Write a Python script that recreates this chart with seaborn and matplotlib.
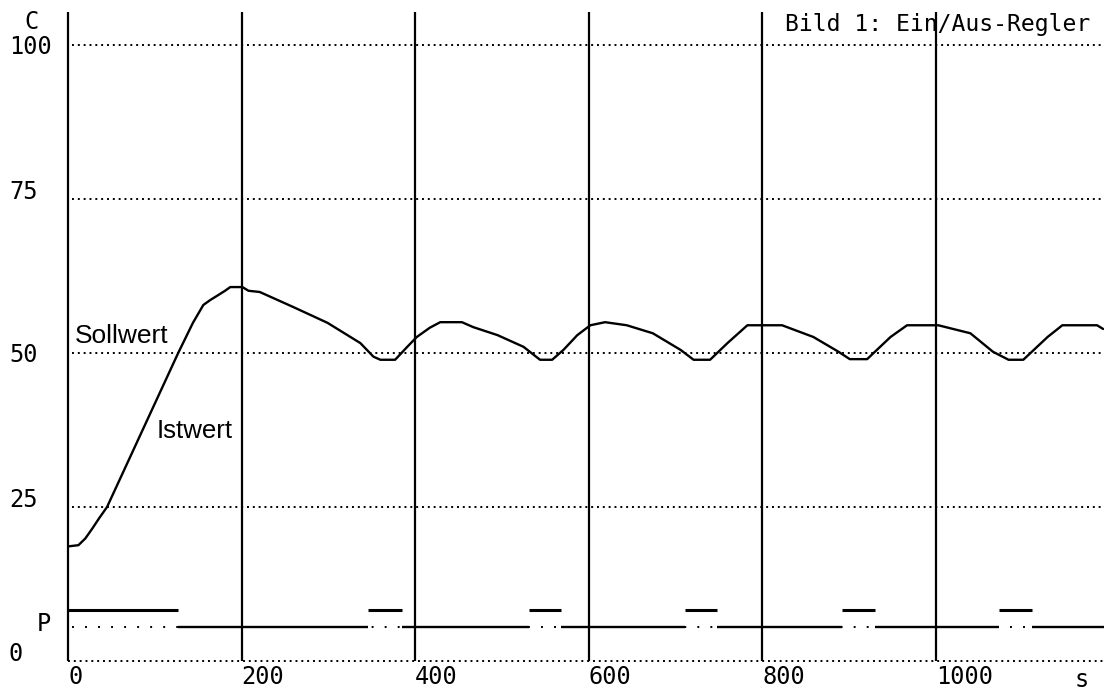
import matplotlib
matplotlib.use("Agg")
import matplotlib.pyplot as plt
import seaborn as sns

# ── Data ─────────────────────────────────────────────────────────────
# Istwert (measured temperature, C) over time (s)
time_s = [0, 12, 20, 28, 36, 45, 127, 144, 156, 164, 172, 181, 187, 201,
          208, 221, 259, 299, 337, 352, 360, 377, 391, 402, 417, 429, 454,
          467, 495, 525, 544, 558, 571, 587, 602, 619, 644, 674, 706, 721,
          740, 760, 783, 823, 859, 888, 901, 921, 948, 967, 1003, 1040, 1066,
          1084, 1101, 1129, 1146, 1186, 1193]
istwert = [18.6, 18.8, 19.9, 21.5, 23.2, 25.0, 50.0, 54.9, 57.8, 58.6,
           59.3, 60.1, 60.7, 60.7, 60.1, 59.9, 57.5, 54.9, 51.6, 49.4, 48.9,
           48.9, 51.0, 52.6, 54.1, 55.0, 55.0, 54.2, 52.9, 51.0, 48.9, 48.9,
           50.5, 52.9, 54.5, 55.0, 54.5, 53.2, 50.5, 48.9, 48.9, 51.6, 54.5,
           54.5, 52.6, 50.2, 49.0, 49.0, 52.6, 54.5, 54.5, 53.2, 50.2, 48.9,
           48.9, 52.6, 54.5, 54.5, 53.9]

grid_levels = [0, 25, 50, 75, 100]
y_tick_labels = ["0", "25", "50", "75", "100"]
x_ticks = [0, 200, 400, 600, 800, 1000]
x_tick_labels = ["0", "200", "400", "600", "800", "1000"]

# Heater power P (on/off intervals in s)
heater_on_start = [0, 346, 531, 711, 892, 1073]
heater_on_end = [127, 385, 568, 748, 930, 1111]
heater_off_start = [127, 385, 568, 748, 930, 1111]
heater_off_end = [346, 531, 711, 892, 1073, 1194]
p_off_level = 5.5
p_on_level = 8.3

X_MAX = 1194
Y_MAX = 107.3
GRID_TOP = 105.4
MONO = "DejaVu Sans Mono"
SANS = "Liberation Sans"

sns.set_theme(style="white")
plt.rcParams["font.family"] = ["DejaVu Sans"]
plt.rcParams["text.color"] = "black"

fig = plt.figure(figsize=(11.04, 6.95), dpi=100)
ax = fig.add_axes([68 / 1104, 34 / 695, 1036 / 1104, 661 / 695])
ax.set_xlim(0, X_MAX)
ax.set_ylim(0, Y_MAX)
for spine in ax.spines.values():
    spine.set_visible(False)

# ── Grid ─────────────────────────────────────────────────────────────
ax.hlines(grid_levels[1:], 5, X_MAX, colors="black", lw=1.4,
          linestyles=(0, (1, 2)))
ax.hlines(0, 0, X_MAX, colors="black", lw=1.4, linestyles=(0, (1, 2)),
          clip_on=False)
ax.vlines(x_ticks, 0, GRID_TOP, colors="black", lw=1.6, clip_on=False)

# ── Heater power ─────────────────────────────────────────────────────
ax.hlines(p_off_level, 5, X_MAX, colors="black", lw=1.4,
          linestyles=(0, (1, 5.7)))
ax.hlines([p_off_level] * len(heater_off_start), heater_off_start,
          heater_off_end, colors="black", lw=1.7)
ax.hlines([p_on_level] * len(heater_on_start), heater_on_start,
          heater_on_end, colors="black", lw=2.2)

# ── Istwert ──────────────────────────────────────────────────────────
sns.lineplot(x=time_s, y=istwert, ax=ax, color="black", lw=1.7)

# ── Ticks and labels ─────────────────────────────────────────────────
ax.set_xticks(x_ticks)
ax.set_xticklabels(x_tick_labels, ha="left", fontfamily=MONO, fontsize=17,
                   color="black")
ax.set_yticks(grid_levels)
ax.set_yticklabels(y_tick_labels, ha="left", fontfamily=MONO, fontsize=17,
                   color="black")
for lbl in ax.get_yticklabels():
    if lbl.get_text() in ("0", "25", "75"):
        lbl.set_va("baseline")
ax.tick_params(axis="x", length=0, pad=3)
ax.tick_params(axis="y", length=0, pad=42.5)

ax.set_xlabel("s", fontfamily=MONO, fontsize=17, color="black",
              va="top", ha="center")
ax.xaxis.set_label_coords((1082 - 68) / 1036, -7 / 661)
ax.set_ylabel("C", fontfamily=MONO, fontsize=17, color="black",
              rotation=0, va="center", ha="center")
ax.yaxis.set_label_coords((31 - 68) / 1036, (661 - 22) / 661)
ax.text(-27.7, 6.0, "P", fontfamily=MONO, fontsize=17, ha="center",
        va="center", clip_on=False, color="black")

ax.text(8, 51.6, "Sollwert", fontfamily=SANS, fontsize=19, va="baseline",
        color="black")
ax.text(102.6, 36.2, "Istwert", fontfamily=SANS, fontsize=18.6,
        va="baseline", color="black")
ax.text(0.9865, 0.953, "Bild 1: Ein/Aus-Regler", transform=ax.transAxes,
        ha="right", va="baseline", fontfamily=MONO, fontsize=16.6,
        color="black")

fig.savefig("out.png", dpi=100)
plt.close(fig)
